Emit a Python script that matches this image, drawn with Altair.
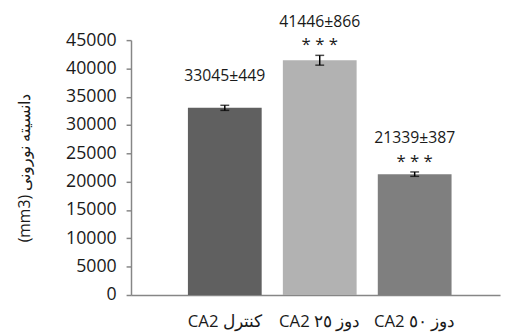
import altair as alt
import pandas as pd

categories = ["CA2 کنترل", "CA2 دوز ٢٥", "CA2 دوز ٥٠"]
means = [33045, 41446, 21339]
sems = [449, 866, 387]
value_labels = ["33045±449", "41446±866", "21339±387"]
stars = ["", "* * *", "* * *"]
colors = ["#606060", "#b2b2b2", "#7f7f7f"]
y_ticks = [0, 5000, 10000, 15000, 20000, 25000, 30000, 35000, 40000, 45000]

df = pd.DataFrame({
    "cat": categories,
    "mean": means,
    "sem": sems,
    "label": value_labels,
    "stars": stars,
})
df["lo"] = df["mean"] - df["sem"]
df["hi"] = df["mean"] + df["sem"]

FONT = "Open Sans"

xs = alt.Scale(paddingInner=0.223, paddingOuter=0.555, align=0.54)
yscale = alt.Scale(domain=[0, 45000], nice=False)
TITLE = "(mm3) دانسیته نورونی"

def X():
    return alt.X("cat:N", sort=categories, title=None, scale=xs,
                 axis=alt.Axis(labelAngle=0, ticks=False, labelFontSize=17,
                               labelPadding=19))

def Y(field):
    return alt.Y(field, scale=yscale, title=TITLE,
                 axis=alt.Axis(values=y_ticks, format="d", grid=False,
                               labelOverlap=False, labelFontSize=18,
                               labelPadding=10, titleFontSize=16,
                               titlePadding=34))

base = alt.Chart(df)

bars = base.mark_bar().encode(
    x=X(),
    y=Y("mean:Q"),
    color=alt.Color("cat:N", sort=categories,
                    scale=alt.Scale(domain=categories, range=colors), legend=None),
)

err = base.mark_rule(color="black", strokeWidth=1.5).encode(
    x=X(), y=Y("lo:Q"), y2="hi:Q",
)
cap_hi = base.mark_tick(color="black", thickness=1.5, size=9).encode(x=X(), y=Y("hi:Q"))
cap_lo = base.mark_tick(color="black", thickness=1.5, size=9).encode(x=X(), y=Y("lo:Q"))

lab_plain = base.transform_filter("datum.stars == ''").mark_text(
    font=FONT, fontSize=16, color="#1a1a1a", baseline="middle", dy=-30
).encode(x=X(), y=Y("hi:Q"), text="label:N")

lab_star = base.transform_filter("datum.stars != ''").mark_text(
    font=FONT, fontSize=16, color="#1a1a1a", baseline="middle", dy=-34
).encode(x=X(), y=Y("hi:Q"), text="label:N")

star_txt = base.transform_filter("datum.stars != ''").mark_text(
    font=FONT, fontSize=17, color="#1a1a1a", baseline="middle", dy=-10
).encode(x=X(), y=Y("hi:Q"), text="stars:N")

chart = alt.layer(bars, err, cap_hi, cap_lo, lab_plain, lab_star, star_txt).properties(
    width=375, height=259,
    padding={"left": 125, "top": 30, "right": 2, "bottom": 38},
    autosize="none",
).configure_view(stroke=None).configure_axis(
    domainColor="#868686", domainWidth=1.5,
    tickColor="#868686", tickWidth=1.5, tickSize=5,
    labelFont=FONT, labelColor="#1a1a1a",
    titleFont=FONT, titleFontWeight="normal", titleColor="#1a1a1a",
)

chart.save("out.html", embed_options={"renderer": "svg", "actions": False})
